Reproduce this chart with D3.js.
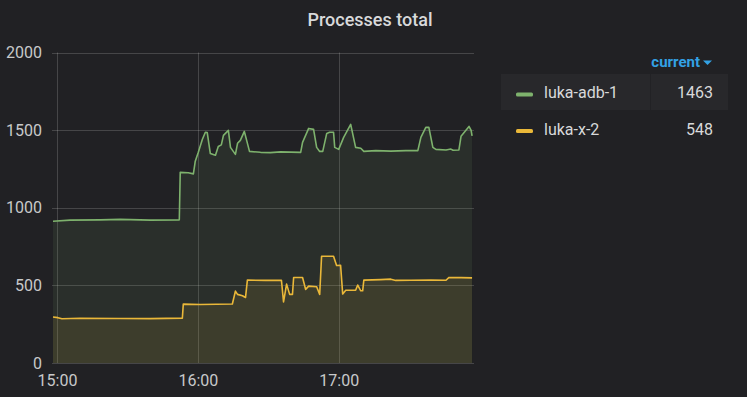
<!DOCTYPE html>
<html>
<head>
<meta charset="utf-8">
<script src="https://cdn.jsdelivr.net/npm/d3@7"></script>
<style>
  html, body { margin: 0; padding: 0; background: #212124; }
  svg { display: block; font-family: Roboto, "Noto Sans", sans-serif; }
</style>
</head>
<body>
<div id="container"></div>
<script>
// minutes after 15:00 and process counts
const greenMinutes = [-1.7, 5.6, 18.4, 26.9, 39.7, 52.1, 52.5, 55.9, 58.1, 58.9, 60.2, 61.9, 63.2, 64.0, 65.3, 67.5, 68.7, 70.0, 70.9, 73.0, 73.9, 76.0, 76.9, 78.1, 79.8, 82.0, 86.7, 90.9, 95.2, 99.5, 103.8, 104.6, 107.2, 109.3, 110.6, 111.9, 113.2, 114.9, 116.1, 117.8, 118.3, 120.0, 122.1, 125.1, 127.2, 129.4, 130.7, 135.8, 142.2, 148.6, 153.7, 155.0, 157.1, 158.4, 160.1, 161.4, 165.7, 167.8, 168.7, 171.2, 172.1, 175.5, 176.4, 176.8];
const greenValues = [913, 920, 922, 925, 920, 922, 1228, 1225, 1218, 1300, 1357, 1440, 1486, 1484, 1350, 1338, 1395, 1405, 1466, 1498, 1389, 1344, 1415, 1434, 1492, 1363, 1357, 1355, 1360, 1358, 1357, 1421, 1511, 1505, 1389, 1363, 1363, 1479, 1486, 1486, 1389, 1376, 1453, 1537, 1389, 1383, 1363, 1368, 1365, 1368, 1368, 1453, 1518, 1518, 1389, 1376, 1372, 1378, 1370, 1372, 1460, 1524, 1498, 1463];

const yellowMinutes = [-1.7, 0.4, 2.1, 9.8, 26.9, 39.7, 53.4, 53.8, 61.1, 74.7, 76.0, 76.9, 79.0, 80.3, 81.1, 88.8, 95.6, 96.5, 97.8, 99.1, 100.3, 100.8, 104.6, 105.9, 107.2, 110.6, 111.9, 112.7, 117.8, 119.1, 120.8, 121.7, 123.0, 127.2, 128.1, 129.4, 130.2, 130.7, 137.9, 142.2, 144.3, 150.7, 159.3, 165.7, 167.0, 172.1, 176.8];
const yellowValues = [296, 292, 285, 288, 287, 286, 289, 379, 377, 380, 463, 442, 433, 422, 534, 532, 533, 394, 508, 442, 442, 551, 551, 474, 495, 491, 442, 688, 688, 628, 630, 444, 469, 469, 502, 465, 465, 534, 537, 540, 532, 533, 534, 533, 551, 550, 548];

const seriesNames = ["luka-adb-1", "luka-x-2"];
const seriesColors = ["#7eb26d", "#eab839"];
const currentValues = [1463, 548];
const yTicks = [0, 500, 1000, 1500, 2000];
const xTickHours = [15, 16, 17];

const width = 747;
const height = 397;
const margin = ({ top: 52.5, right: 275, bottom: 34, left: 53 });

const base = new Date(2019, 0, 1, 15, 0, 0);
const toDate = m => new Date(base.getTime() + m * 60000);

const series = [
    { name: seriesNames[0], color: seriesColors[0], values: greenMinutes.map((m, i) => ({ t: toDate(m), v: greenValues[i] })) },
    { name: seriesNames[1], color: seriesColors[1], values: yellowMinutes.map((m, i) => ({ t: toDate(m), v: yellowValues[i] })) }
];

let x = d3.scaleTime()
    .domain([toDate(-1.7), toDate(177.2)])
    .range([margin.left, width - margin.right + 1]);

let y = d3.scaleLinear()
    .domain([0, 2000])
    .range([height - margin.bottom, margin.top]);

let svg = d3.select("#container").append("svg")
    .attr("width", width)
    .attr("height", height);

svg.append("rect")
    .attr("width", width)
    .attr("height", height)
    .attr("fill", "#212124");

// title
svg.append("text")
    .attr("x", 370)
    .attr("y", 26)
    .attr("text-anchor", "middle")
    .attr("fill", "#d8d9da")
    .attr("font-size", 18)
    .attr("font-weight", 500)
    .text("Processes total");

// grid
let grid = svg.append("g")
    .attr("stroke", "#ffffff")
    .attr("stroke-opacity", 0.17)
    .attr("stroke-width", 1);

grid.selectAll(".h")
    .data(yTicks)
    .join("line")
    .attr("x1", margin.left - 1)
    .attr("x2", x.range()[1] + 1)
    .attr("y1", d => Math.round(y(d)) + 0.5)
    .attr("y2", d => Math.round(y(d)) + 0.5);

grid.selectAll(".v")
    .data(xTickHours)
    .join("line")
    .attr("x1", d => Math.round(x(new Date(2019, 0, 1, d, 0, 0))) + 0.5)
    .attr("x2", d => Math.round(x(new Date(2019, 0, 1, d, 0, 0))) + 0.5)
    .attr("y1", margin.top)
    .attr("y2", height - margin.bottom);

// axes
let yAxis = g => g
    .attr("transform", `translate(${margin.left - 1},0)`)
    .call(d3.axisLeft(y).tickValues(yTicks).tickSize(0).tickPadding(10).tickFormat(d3.format("d")))
    .call(g => g.select(".domain").remove());

let xAxis = g => g
    .attr("transform", `translate(0,${height - margin.bottom})`)
    .call(d3.axisBottom(x)
        .tickValues(xTickHours.map(h => new Date(2019, 0, 1, h, 0, 0)))
        .tickSize(0).tickPadding(12)
        .tickFormat(d3.timeFormat("%H:%M")))
    .call(g => g.select(".domain").remove());

svg.append("g").call(yAxis)
    .selectAll("text")
    .attr("fill", "#c8c9ca")
    .attr("font-size", 16)
    .attr("font-family", "Roboto, sans-serif");

svg.append("g").call(xAxis)
    .selectAll("text")
    .attr("fill", "#c8c9ca")
    .attr("font-size", 16)
    .attr("font-family", "Roboto, sans-serif");

// areas and lines
let area = d3.area()
    .x(d => x(d.t))
    .y0(y(0))
    .y1(d => y(d.v));

let line = d3.line()
    .x(d => x(d.t))
    .y(d => y(d.v));

let seri = svg.append("g");

series.forEach(s => {
    seri.append("path")
        .attr("fill", s.color)
        .attr("fill-opacity", 0.1)
        .attr("d", area(s.values));
});

series.forEach(s => {
    seri.append("path")
        .attr("fill", "none")
        .attr("stroke", s.color)
        .attr("stroke-width", 1.6)
        .attr("stroke-linejoin", "round")
        .attr("d", line(s.values));
});

// legend
let legend = svg.append("g");

legend.append("text")
    .attr("x", 700)
    .attr("y", 67)
    .attr("text-anchor", "end")
    .attr("fill", "#33a2e5")
    .attr("font-size", 15)
    .attr("font-weight", 700)
    .text("current");

legend.append("path")
    .attr("d", "M703,60.5L712,60.5L707.5,65Z")
    .attr("fill", "#33a2e5");

legend.append("rect")
    .attr("x", 501)
    .attr("y", 74)
    .attr("width", 227)
    .attr("height", 36)
    .attr("fill", "#28282b");

legend.append("line")
    .attr("x1", 650.5)
    .attr("x2", 650.5)
    .attr("y1", 74)
    .attr("y2", 110)
    .attr("stroke", "#222225");

let rows = legend.selectAll(".row")
    .data(series)
    .join("g")
    .attr("transform", (d, i) => `translate(0,${i * 36.5})`);

rows.append("rect")
    .attr("x", 516)
    .attr("y", 92.5)
    .attr("width", 17)
    .attr("height", 4)
    .attr("rx", 1.5)
    .attr("fill", d => d.color);

rows.append("text")
    .attr("x", 544)
    .attr("y", 98)
    .attr("fill", "#d8d9da")
    .attr("font-size", 16)
    .text(d => d.name);

rows.append("text")
    .attr("x", 713)
    .attr("y", 98)
    .attr("text-anchor", "end")
    .attr("fill", "#d8d9da")
    .attr("font-size", 16)
    .text((d, i) => currentValues[i]);
</script>
</body>
</html>
